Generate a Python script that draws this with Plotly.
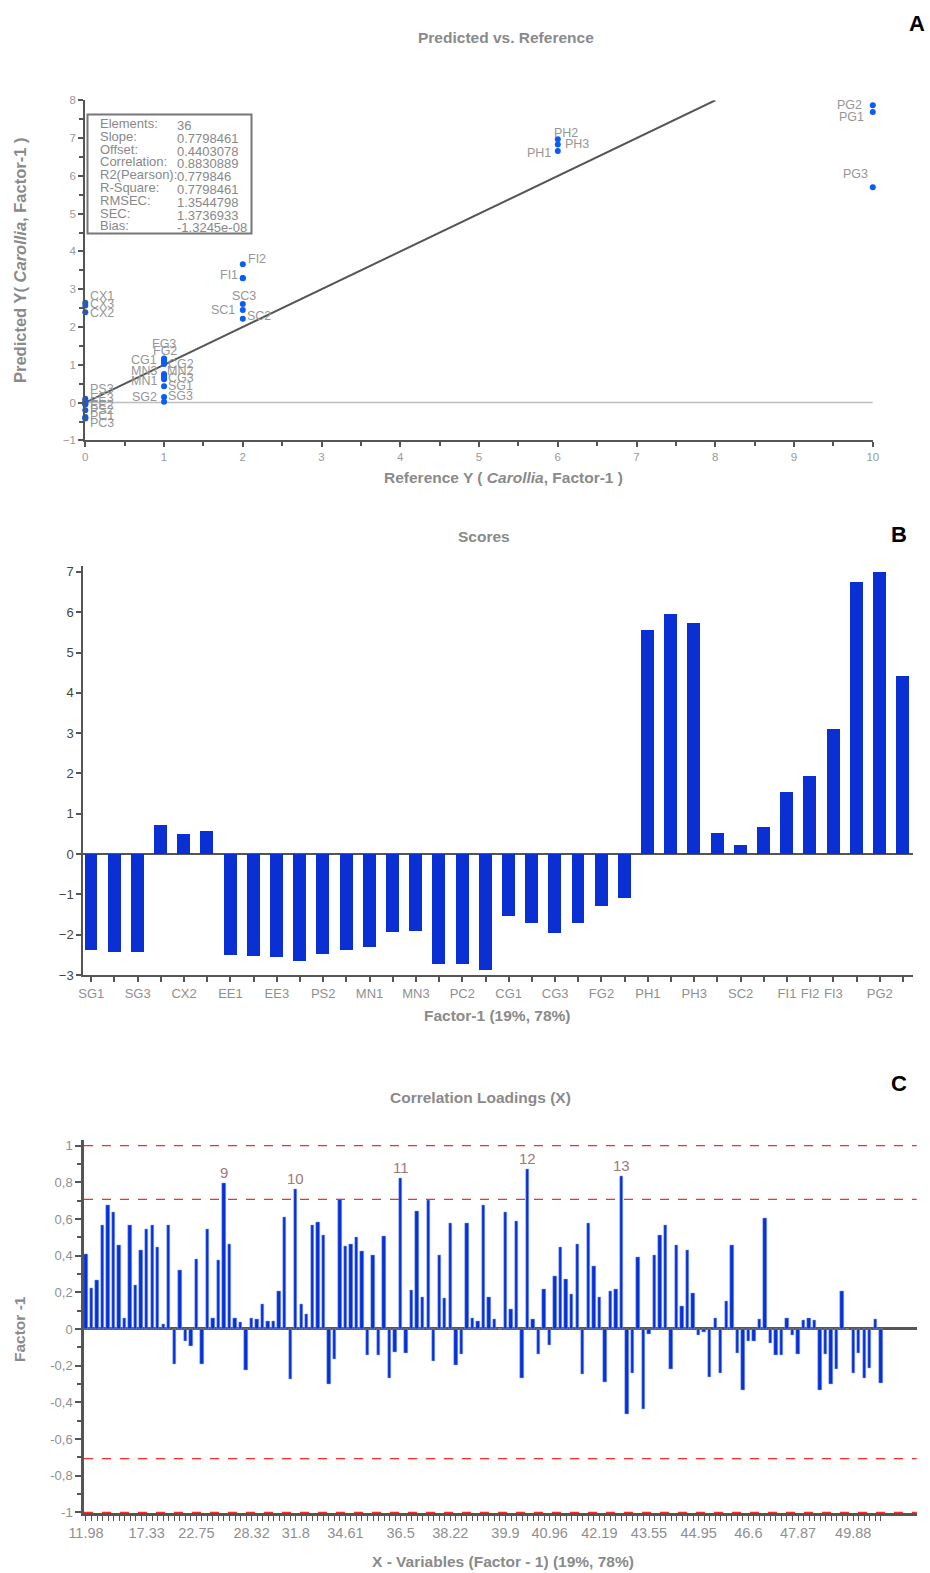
import plotly.graph_objects as go

W, H = 930, 1573
def fx(x): return x / W
def fy(y): return 1 - y / H

NARROW = "Liberation Sans Narrow, Arial Narrow, Liberation Sans, Arial, sans-serif"
SANS = "Liberation Sans, Arial, sans-serif"
GRAY = "#8a8a8a"
AXIS = "#555555"

# ---------------- Panel A data ----------------
samples = ["SG1", "SG2", "SG3", "CX1", "CX2", "CX3", "EE1", "EE2", "EE3", "PS1", "PS2", "PS3",
           "MN1", "MN2", "MN3", "PC1", "PC2", "PC3", "CG1", "CG2", "CG3", "FG1", "FG2", "FG3",
           "PH1", "PH2", "PH3", "SC1", "SC2", "SC3", "FI1", "FI2", "FI3", "PG1", "PG2", "PG3"]
reference_y = [1, 1, 1, 0, 0, 0, 0, 0, 0, 0, 0, 0,
               1, 1, 1, 0, 0, 0, 1, 1, 1, 1, 1, 1,
               6, 6, 6, 2, 2, 2, 2, 2, 2, 10, 10, 10]
predicted_y = [0.43, 0.15, 0.02, 2.64, 2.39, 2.57, 0.0, -0.04, 0.05, -0.05, -0.2, 0.1,
               0.62, 0.72, 0.76, -0.38, -0.41, -0.42, 1.06, 1.02, 0.66, 1.1, 1.13, 1.17,
               6.66, 6.97, 6.83, 2.45, 2.22, 2.61, 3.29, 3.66, 3.3, 7.69, 7.87, 5.70]
hidden_labels = ["EE1", "PS1", "PC2", "FG1", "FI3"]
target_line_x = [0, 8]

stat_names = ["Elements:", "Slope:", "Offset:", "Correlation:", "R2(Pearson):", "R-Square:",
              "RMSEC:", "SEC:", "Bias:"]
stat_values = ["36", "0.7798461", "0.4403078", "0.8830889", "0.779846", "0.7798461",
               "1.3544798", "1.3736933", "-1.3245e-08"]

# label placement (style): anchor side, xshift, yshift in px
label_style = {
    "CX1": ("left", 3, 7), "CX3": ("left", 3, 1), "CX2": ("left", 3, -1),
    "PS3": ("left", 3, 10), "EE3": ("left", 3, 3), "EE2": ("left", 3, -1),
    "PS2": ("left", 3, 0), "PC1": ("left", 3, 1), "PC3": ("left", 3, -5),
    "FG3": ("center", 0, 14), "FG2": ("center", 1, 9), "CG1": ("right", -5, 3),
    "CG2": ("left", 2, 0), "MN3": ("right", -5, 3), "MN2": ("left", 1, 4),
    "CG3": ("left", 2, 0), "MN1": ("right", -5, -2), "SG1": ("left", 2, 0),
    "SG2": ("right", -5, 0), "SG3": ("left", 2, 6),
    "SC3": ("center", 1, 8), "SC1": ("right", -6, 0), "SC2": ("left", 2, 3),
    "FI2": ("left", 3, 5), "FI1": ("right", -3, 3),
    "PH2": ("center", 8, 6), "PH3": ("left", 5, 1), "PH1": ("right", -5, -2),
    "PG2": ("right", -9, 0), "PG1": ("right", -7, -5), "PG3": ("center", -17, 13),
}

# ---------------- Panel B data ----------------
score_names = samples
scores = [-2.38, -2.42, -2.43, 0.72, 0.50, 0.57, -2.50, -2.52, -2.55, -2.65, -2.48, -2.38,
          -2.30, -1.92, -1.90, -2.72, -2.72, -2.88, -1.52, -1.70, -1.95, -1.70, -1.28, -1.08,
          5.57, 5.95, 5.73, 0.52, 0.22, 0.68, 1.55, 1.95, 3.10, 6.75, 7.00, 4.42]
score_shown = ["SG1", "SG3", "CX2", "EE1", "EE3", "PS2", "MN1", "MN3", "PC2", "CG1", "CG3",
               "FG2", "PH1", "PH3", "SC2", "FI1", "FI2", "FI3", "PG2"]

# ---------------- Panel C data ----------------
loadings = [0.41, 0.224, 0.265, 0.567, 0.678, 0.638, 0.458, 0.06, 0.567, 0.238,
            0.431, 0.542, 0.567, 0.445, 0.025, 0.567, -0.193, 0.32, -0.069, -0.096,
            0.382, -0.193, 0.542, 0.06, 0.376, 0.795, 0.465, 0.06, 0.038, -0.225,
            0.06, 0.053, 0.136, 0.045, 0.045, 0.204, 0.609, -0.275, 0.762, 0.136,
            0.082, 0.567, 0.582, 0.513, -0.302, -0.165, 0.71, 0.451, 0.465, 0.5,
            0.424, -0.144, 0.404, -0.144, 0.505, -0.267, -0.129, 0.822, -0.131, 0.211,
            0.644, 0.176, 0.705, -0.176, 0.404, 0.169, 0.575, -0.198, -0.136, 0.575,
            0.06, 0.04, 0.678, 0.176, 0.053, 0.0, 0.636, 0.109, 0.589, -0.267,
            0.871, 0.053, -0.136, 0.218, -0.089, 0.287, 0.444, 0.273, 0.191, 0.465,
            -0.247, 0.575, 0.342, 0.176, -0.289, 0.204, 0.218, 0.836, -0.465, -0.24,
            0.389, -0.438, -0.027, 0.404, 0.513, 0.567, -0.22, 0.458, 0.122, 0.431,
            0.196, -0.036, -0.018, -0.262, 0.06, -0.242, 0.149, 0.458, -0.131, -0.336,
            -0.069, -0.064, 0.053, 0.602, -0.075, -0.145, -0.145, 0.06, -0.036, -0.138,
            0.047, 0.06, 0.047, -0.336, -0.138, -0.302, -0.22, 0.204, 0.0, -0.24,
            -0.131, -0.267, -0.213, 0.053, -0.296]
peak_index = [25, 38, 57, 80, 97]
peak_labels = ["9", "10", "11", "12", "13"]
xvar_tick_index = [0, 11, 20, 30, 38, 47, 57, 66, 76, 84, 93, 102, 111, 120, 129, 139]
xvar_tick_labels = ["11.98", "17.33", "22.75", "28.32", "31.8", "34.61", "36.5", "38.22", "39.9",
                    "40.96", "42.19", "43.55", "44.95", "46.6", "47.87", "49.88"]
ref_lines = [1.0, 0.7071, -0.7071, -1.0]
c_yticks = [1, 0.8, 0.6, 0.4, 0.2, 0, -0.2, -0.4, -0.6, -0.8, -1]
c_yticktext = ["1", "0,8", "0,6", "0,4", "0,2", "0", "-0,2", "-0,4", "-0,6", "-0,8", "-1"]

fig = go.Figure()

# ---- Panel A traces ----
fig.add_trace(go.Scatter(x=[0, 10], y=[0, 0], mode="lines", line=dict(color="#bdbdbd", width=1.5),
                         xaxis="x", yaxis="y", hoverinfo="skip", showlegend=False))
fig.add_trace(go.Scatter(x=target_line_x, y=target_line_x, mode="lines",
                         line=dict(color="#555555", width=2), xaxis="x", yaxis="y", showlegend=False))
fig.add_trace(go.Scatter(x=reference_y, y=predicted_y, mode="markers", text=samples,
                         marker=dict(color="#0a5cf5", size=6), xaxis="x", yaxis="y",
                         cliponaxis=False, showlegend=False))

# ---- Panel B ----
fig.add_trace(go.Bar(x=list(range(len(scores))), y=scores, marker=dict(color="#0a2fd2", line=dict(width=0)),
                     width=0.56, xaxis="x2", yaxis="y2", showlegend=False))

# ---- Panel C ----
fig.add_trace(go.Bar(x=list(range(len(loadings))), y=loadings,
                     marker=dict(color="#0632d4", line=dict(color="#9fb0ee", width=0.5)),
                     width=0.62, xaxis="x3", yaxis="y3", showlegend=False))

annotations = []
# point labels
for name, rx, py in zip(samples, reference_y, predicted_y):
    if name in hidden_labels:
        continue
    anc, dx, dy = label_style[name]
    annotations.append(dict(x=rx, y=py, xref="x", yref="y", text=name, showarrow=False,
                            xanchor=anc, yanchor="middle", xshift=dx, yshift=dy,
                            font=dict(family=SANS, size=12.5, color="#969696")))
# stats box text
for i, (n, v) in enumerate(zip(stat_names, stat_values)):
    yy = 123.5 + i * 12.8
    annotations.append(dict(x=fx(97.5), y=fy(yy), xref="paper", yref="paper", text=n, showarrow=False,
                            xanchor="left", yanchor="middle", font=dict(family=SANS, size=13, color="#888888")))
    annotations.append(dict(x=fx(175), y=fy(yy + 2), xref="paper", yref="paper", text=v, showarrow=False,
                            xanchor="left", yanchor="middle", font=dict(family=SANS, size=13, color="#888888")))
# peak labels
for idx, lab in zip(peak_index, peak_labels):
    annotations.append(dict(x=idx, y=loadings[idx], xref="x3", yref="y3", text=lab, showarrow=False,
                            xanchor="center", yanchor="bottom", yshift=0,
                            font=dict(family=SANS, size=15, color="#a07878")))

def title(text, x, y, size=15.5, color=GRAY, family=NARROW, bold=True, angle=0):
    t = f"<b>{text}</b>" if bold else text
    annotations.append(dict(x=fx(x), y=fy(y), xref="paper", yref="paper", text=t, showarrow=False,
                            xanchor="center", yanchor="middle", textangle=angle,
                            font=dict(family=family, size=size, color=color)))

title("Predicted vs. Reference", 506, 38)
title("A", 917, 24, size=22, color="#000000", family=SANS)
title("Reference Y ( <i>Carollia</i>, Factor-1 )", 503, 478)
title("Predicted Y( <i>Carollia</i>, Factor-1 )", 20, 261, size=16.5, angle=-90)
title("Scores", 484, 537)
title("B", 899, 534, size=22, color="#000000", family=SANS)
title("Factor-1 (19%, 78%)", 497, 1016)
title("Correlation Loadings (X)", 480, 1097)
title("C", 899, 1083, size=22, color="#000000", family=SANS)
title("X - Variables (Factor - 1) (19%, 78%)", 503, 1561)
title("Factor -1", 19, 1329, angle=-90)

shapes = []
# stats box
shapes.append(dict(type="rect", xref="paper", yref="paper", x0=fx(87.5), x1=fx(251.5),
                   y0=fy(114.5), y1=fy(233.5), line=dict(color="#777777", width=2), fillcolor="rgba(0,0,0,0)"))
for v in ref_lines:
    shapes.append(dict(type="line", xref="x3 domain", yref="y3", x0=0, x1=1, y0=v, y1=v,
                       line=dict(color="#ff2a2a", width=1.2, dash="dash"), layer="above"))

common = dict(automargin=False, showgrid=False)

fig.update_layout(
    width=W, height=H, margin=dict(l=0, r=0, t=0, b=0, pad=0, autoexpand=False),
    paper_bgcolor="white", plot_bgcolor="white", showlegend=False,
    bargap=0,
    annotations=annotations, shapes=shapes,
    xaxis=dict(domain=[fx(85.3), fx(872.8)], range=[0, 10], anchor="y",
               tickvals=list(range(11)), ticks="outside", ticklen=5, tickwidth=1.5, tickcolor=AXIS,
               minor=dict(dtick=0.5, tick0=0, ticks="outside", ticklen=4, tickcolor=AXIS),
               zeroline=False, showline=True, linecolor=AXIS, linewidth=2,
               tickfont=dict(family=NARROW, size=11.5, color="#999999"), **common),
    yaxis=dict(domain=[fy(440.4), fy(100.3)], range=[-1, 8], anchor="x",
               tickvals=list(range(-1, 9)), ticks="outside", ticklen=5, tickwidth=1.5, tickcolor=AXIS,
               minor=dict(dtick=0.5, tick0=0, ticks="outside", ticklen=4, tickcolor=AXIS),
               zeroline=False, showline=True, linecolor=AXIS, linewidth=2,
               tickfont=dict(family=NARROW, size=11.5, color="#999999"), **common),
    xaxis2=dict(domain=[fx(83.3), fx(912.7)], range=[-0.345, 35.42], anchor="y2",
                tickvals=list(range(len(scores))),
                ticktext=[n if n in score_shown else "" for n in score_names],
                ticks="outside", ticklen=5, tickwidth=1.5, tickcolor=AXIS,
                zeroline=False, showline=True, linecolor=AXIS, linewidth=2,
                tickfont=dict(family=NARROW, size=13, color="#8f8f8f"), **common),
    yaxis2=dict(domain=[fy(975.1), fy(565.8)], range=[-3, 7.15], anchor="x2",
                tickvals=list(range(-3, 8)), ticks="outside", ticklen=5, tickwidth=1.5, tickcolor=AXIS,
                zeroline=True, zerolinecolor=AXIS, zerolinewidth=2,
                showline=True, linecolor=AXIS, linewidth=2,
                tickfont=dict(family=SANS, size=13, color="#444444"), **common),
    xaxis3=dict(domain=[fx(84), fx(916.7)], range=[-0.36, 150.5], anchor="y3",
                tickvals=list(range(len(loadings))),
                ticktext=[xvar_tick_labels[xvar_tick_index.index(i)] if i in xvar_tick_index else ""
                          for i in range(len(loadings))],
                ticks="outside", ticklen=5, tickwidth=1, tickcolor=AXIS,
                zeroline=False, showline=True, linecolor=AXIS, linewidth=2.5,
                tickfont=dict(family=NARROW, size=14.5, color="#8f8f8f"), **common),
    yaxis3=dict(domain=[fy(1513.2), fy(1140.2)], range=[-1.005, 1.03], anchor="x3",
                tickvals=c_yticks, ticktext=c_yticktext,
                ticks="outside", ticklen=6, tickwidth=1.5, tickcolor=AXIS,
                minor=dict(dtick=0.1, tick0=0, ticks="outside", ticklen=4, tickcolor=AXIS),
                zeroline=True, zerolinecolor=AXIS, zerolinewidth=2.5,
                showline=True, linecolor=AXIS, linewidth=2.5,
                tickfont=dict(family=SANS, size=13, color="#8f8f8f"), **common),
)

fig.write_html("out.html",
               post_script="document.body.style.margin='0';document.body.style.padding='0';"
                           "document.documentElement.style.overflow='hidden';")
